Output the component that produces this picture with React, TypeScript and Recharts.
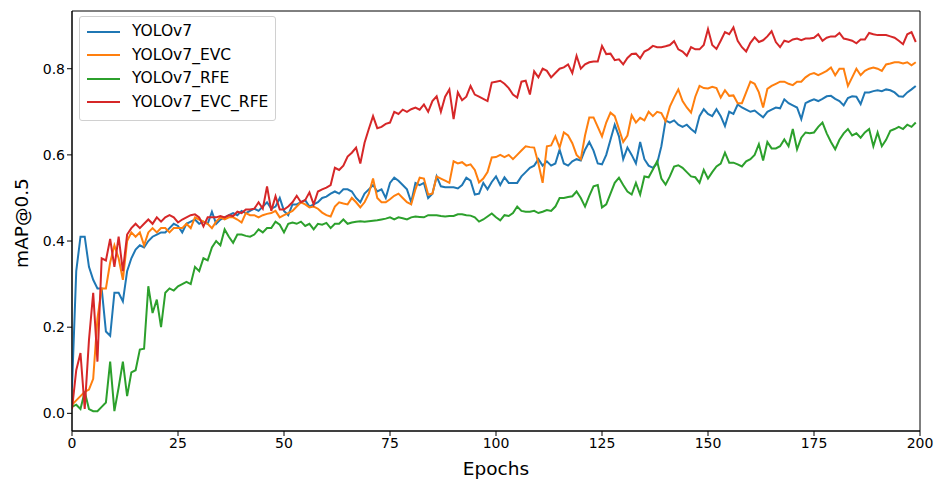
import { LineChart, Line, XAxis, YAxis, ReferenceArea } from "recharts"

const yolov7 = [
  0.06, 0.33, 0.41, 0.41, 0.34, 0.31, 0.29, 0.29, 0.19, 0.18,
  0.28, 0.28, 0.26, 0.33, 0.36, 0.38, 0.39, 0.385, 0.40, 0.41,
  0.415, 0.42, 0.42, 0.43, 0.44, 0.435, 0.42, 0.44, 0.445, 0.45,
  0.44, 0.445, 0.44, 0.468, 0.44, 0.45, 0.455, 0.46, 0.465, 0.46,
  0.47, 0.465, 0.47, 0.475, 0.47, 0.48, 0.49, 0.475, 0.48, 0.50,
  0.47, 0.46, 0.485, 0.485, 0.49, 0.495, 0.48, 0.485, 0.49, 0.50,
  0.503, 0.51, 0.515, 0.51, 0.52, 0.52, 0.515, 0.50, 0.49, 0.51,
  0.52, 0.53, 0.515, 0.52, 0.50, 0.535, 0.547, 0.54, 0.53, 0.52,
  0.49, 0.535, 0.53, 0.535, 0.50, 0.51, 0.55, 0.527, 0.525, 0.525,
  0.525, 0.522, 0.53, 0.547, 0.54, 0.508, 0.51, 0.535, 0.52, 0.537,
  0.55, 0.53, 0.548, 0.535, 0.535, 0.535, 0.55, 0.56, 0.57, 0.575,
  0.59, 0.575, 0.585, 0.575, 0.58, 0.612, 0.58, 0.575, 0.585, 0.59,
  0.587, 0.612, 0.63, 0.61, 0.58, 0.578, 0.60, 0.635, 0.67, 0.643,
  0.59, 0.617, 0.60, 0.58, 0.63, 0.59, 0.575, 0.57, 0.58, 0.62,
  0.68, 0.675, 0.68, 0.67, 0.665, 0.67, 0.66, 0.652, 0.69, 0.706,
  0.695, 0.69, 0.706, 0.69, 0.667, 0.70, 0.695, 0.717, 0.71, 0.705,
  0.70, 0.703, 0.695, 0.687, 0.70, 0.705, 0.71, 0.708, 0.729, 0.72,
  0.715, 0.71, 0.683, 0.72, 0.725, 0.729, 0.725, 0.73, 0.736, 0.737,
  0.73, 0.725, 0.715, 0.732, 0.736, 0.735, 0.718, 0.745, 0.745, 0.748,
  0.75, 0.748, 0.752, 0.75, 0.745, 0.736, 0.735, 0.745, 0.752, 0.76,
]

const yolov7Evc = [
  0.02, 0.03, 0.04, 0.05, 0.055, 0.08, 0.22, 0.29, 0.29, 0.35,
  0.39, 0.36, 0.31, 0.40, 0.42, 0.41, 0.42, 0.39, 0.42, 0.43,
  0.42, 0.43, 0.43, 0.42, 0.43, 0.43, 0.43, 0.44, 0.43, 0.455,
  0.45, 0.445, 0.44, 0.43, 0.445, 0.455, 0.45, 0.455, 0.455, 0.45,
  0.443, 0.465, 0.46, 0.46, 0.455, 0.46, 0.463, 0.465, 0.47, 0.455,
  0.46, 0.465, 0.47, 0.48, 0.49, 0.485, 0.478, 0.48, 0.475, 0.466,
  0.46, 0.457, 0.48, 0.49, 0.487, 0.485, 0.50, 0.49, 0.478, 0.49,
  0.51, 0.545, 0.50, 0.49, 0.49, 0.497, 0.505, 0.51, 0.50, 0.49,
  0.485, 0.52, 0.547, 0.545, 0.508, 0.51, 0.55, 0.545, 0.54, 0.535,
  0.585, 0.58, 0.583, 0.575, 0.578, 0.565, 0.536, 0.545, 0.56, 0.594,
  0.595, 0.60, 0.595, 0.60, 0.59, 0.60, 0.61, 0.62, 0.618, 0.617,
  0.58, 0.535, 0.62, 0.622, 0.643, 0.617, 0.652, 0.645, 0.627, 0.60,
  0.59, 0.645, 0.687, 0.687, 0.665, 0.643, 0.675, 0.698, 0.69, 0.66,
  0.63, 0.645, 0.692, 0.675, 0.686, 0.68, 0.70, 0.69, 0.70, 0.697,
  0.678, 0.712, 0.733, 0.752, 0.725, 0.71, 0.698, 0.735, 0.76, 0.755,
  0.754, 0.758, 0.755, 0.733, 0.75, 0.737, 0.738, 0.72, 0.72, 0.745,
  0.77, 0.765, 0.745, 0.71, 0.753, 0.76, 0.765, 0.77, 0.77, 0.765,
  0.762, 0.77, 0.77, 0.78, 0.787, 0.79, 0.785, 0.79, 0.795, 0.803,
  0.785, 0.80, 0.80, 0.76, 0.78, 0.80, 0.785, 0.795, 0.80, 0.803,
  0.80, 0.795, 0.81, 0.812, 0.815, 0.815, 0.812, 0.815, 0.808, 0.815,
]

const yolov7Rfe = [
  0.015, 0.02, 0.01, 0.05, 0.01, 0.005, 0.005, 0.015, 0.025, 0.12,
  0.005, 0.06, 0.12, 0.04, 0.095, 0.10, 0.148, 0.15, 0.295, 0.233,
  0.264, 0.20, 0.28, 0.29, 0.285, 0.295, 0.30, 0.305, 0.30, 0.34,
  0.33, 0.36, 0.355, 0.385, 0.40, 0.39, 0.427, 0.41, 0.396, 0.415,
  0.415, 0.412, 0.41, 0.415, 0.427, 0.42, 0.43, 0.43, 0.445, 0.438,
  0.42, 0.44, 0.443, 0.44, 0.445, 0.435, 0.44, 0.427, 0.44, 0.438,
  0.442, 0.43, 0.44, 0.44, 0.45, 0.44, 0.443, 0.445, 0.446, 0.445,
  0.446, 0.447, 0.448, 0.45, 0.452, 0.455, 0.45, 0.455, 0.453, 0.45,
  0.455, 0.457, 0.456, 0.455, 0.46, 0.46, 0.46, 0.458, 0.457, 0.458,
  0.458, 0.462, 0.462, 0.46, 0.459, 0.455, 0.445, 0.45, 0.457, 0.464,
  0.455, 0.448, 0.46, 0.458, 0.465, 0.48, 0.47, 0.468, 0.468, 0.47,
  0.465, 0.468, 0.472, 0.47, 0.48, 0.50, 0.50, 0.502, 0.504, 0.515,
  0.50, 0.48, 0.505, 0.527, 0.53, 0.478, 0.485, 0.51, 0.535, 0.547,
  0.53, 0.515, 0.508, 0.535, 0.508, 0.55, 0.548, 0.566, 0.585, 0.545,
  0.531, 0.55, 0.573, 0.576, 0.57, 0.56, 0.55, 0.548, 0.535, 0.565,
  0.545, 0.56, 0.573, 0.58, 0.605, 0.582, 0.582, 0.578, 0.573, 0.585,
  0.59, 0.60, 0.625, 0.587, 0.63, 0.615, 0.615, 0.62, 0.636, 0.62,
  0.66, 0.613, 0.64, 0.652, 0.65, 0.652, 0.665, 0.675, 0.65, 0.63,
  0.613, 0.635, 0.65, 0.66, 0.645, 0.65, 0.64, 0.652, 0.66, 0.62,
  0.652, 0.62, 0.635, 0.656, 0.66, 0.665, 0.66, 0.67, 0.665, 0.675,
]

const yolov7EvcRfe = [
  0.01, 0.10, 0.14, 0.01, 0.17, 0.28, 0.12, 0.36, 0.355, 0.405,
  0.34, 0.41, 0.33, 0.415, 0.43, 0.44, 0.43, 0.44, 0.45, 0.44,
  0.455, 0.445, 0.455, 0.46, 0.455, 0.443, 0.45, 0.455, 0.46, 0.462,
  0.455, 0.434, 0.455, 0.455, 0.455, 0.458, 0.455, 0.46, 0.458, 0.468,
  0.465, 0.473, 0.473, 0.475, 0.49, 0.475, 0.527, 0.47, 0.504, 0.473,
  0.473, 0.48, 0.49, 0.505, 0.49, 0.495, 0.513, 0.485, 0.515, 0.52,
  0.524, 0.53, 0.57, 0.565, 0.575, 0.596, 0.605, 0.617, 0.58, 0.628,
  0.66, 0.69, 0.662, 0.665, 0.672, 0.675, 0.70, 0.695, 0.705, 0.70,
  0.706, 0.71, 0.705, 0.717, 0.70, 0.725, 0.736, 0.70, 0.735, 0.752,
  0.683, 0.745, 0.727, 0.735, 0.76, 0.74, 0.735, 0.73, 0.725, 0.768,
  0.77, 0.772, 0.765, 0.755, 0.74, 0.733, 0.77, 0.772, 0.74, 0.794,
  0.78, 0.80, 0.795, 0.78, 0.79, 0.80, 0.803, 0.81, 0.79, 0.83,
  0.80, 0.81, 0.815, 0.817, 0.817, 0.853, 0.834, 0.835, 0.82, 0.822,
  0.81, 0.825, 0.834, 0.835, 0.824, 0.84, 0.845, 0.853, 0.85, 0.85,
  0.852, 0.855, 0.864, 0.845, 0.84, 0.83, 0.85, 0.845, 0.845, 0.855,
  0.892, 0.855, 0.846, 0.865, 0.885, 0.88, 0.896, 0.865, 0.85, 0.84,
  0.86, 0.873, 0.862, 0.866, 0.875, 0.887, 0.862, 0.85, 0.865, 0.862,
  0.868, 0.87, 0.866, 0.87, 0.87, 0.872, 0.88, 0.865, 0.872, 0.875,
  0.875, 0.883, 0.87, 0.868, 0.865, 0.859, 0.868, 0.868, 0.883, 0.88,
  0.878, 0.878, 0.878, 0.875, 0.872, 0.865, 0.857, 0.88, 0.885, 0.862,
]

const xTicks = [0, 25, 50, 75, 100, 125, 150, 175, 200]
const yTicks = [0, 0.2, 0.4, 0.6, 0.8]

const series = [
  { key: "yolov7", name: "YOLOv7", color: "#1f77b4", values: yolov7 },
  { key: "evc", name: "YOLOv7_EVC", color: "#ff7f0e", values: yolov7Evc },
  { key: "rfe", name: "YOLOv7_RFE", color: "#2ca02c", values: yolov7Rfe },
  { key: "evcRfe", name: "YOLOv7_EVC_RFE", color: "#d62728", values: yolov7EvcRfe },
]

const data = yolov7.map((_, i) => {
  const row: Record<string, number> = { epoch: i }
  series.forEach(s => { row[s.key] = s.values[i] })
  return row
})

const FONT = "'DejaVu Sans', sans-serif"
const Y_MIN = -0.041
const Y_MAX = 0.934

export default function App() {
  return (
    <div style={{ position: "absolute", left: 0, top: 0, width: 935, height: 479, background: "#fff", fontFamily: FONT }}>
      <LineChart width={935} height={479} data={data} margin={{ top: 11, right: 15, bottom: 0, left: 0 }}>
        <XAxis
          dataKey="epoch"
          type="number"
          domain={[0, 200]}
          ticks={xTicks}
          allowDataOverflow
          height={48}
          stroke="#000"
          tickSize={5}
          tick={{ fontSize: 14, fill: "#000", fontFamily: FONT }}
          label={{
            content: () => (
              <text x={496} y={475} textAnchor="middle" fontSize={18.5} fontFamily={FONT} fill="#000">Epochs</text>
            ),
          }}
        />
        <YAxis
          type="number"
          domain={[Y_MIN, Y_MAX]}
          ticks={yTicks}
          allowDataOverflow
          width={72}
          stroke="#000"
          tickSize={5}
          tickFormatter={(v: number) => v.toFixed(1)}
          tick={{ fontSize: 14, fill: "#000", fontFamily: FONT }}
          label={{
            content: () => (
              <text x={28} y={223} transform="rotate(-90 28 223)" textAnchor="middle" fontSize={18.5} fontFamily={FONT} fill="#000">mAP@0.5</text>
            ),
          }}
        />
        <ReferenceArea x1={0} x2={200} y1={Y_MIN} y2={Y_MAX} fill="none" stroke="#000" strokeWidth={1} />
        {series.map(s => (
          <Line
            key={s.key}
            dataKey={s.key}
            name={s.name}
            stroke={s.color}
            strokeWidth={2}
            dot={false}
            isAnimationActive={false}
          />
        ))}
      </LineChart>
      <div
        style={{
          position: "absolute",
          left: 79,
          top: 16,
          width: 195,
          height: 100,
          border: "1px solid #d0d0d0",
          borderRadius: 3,
          background: "rgba(255,255,255,0.8)",
          paddingTop: 3,
          boxSizing: "content-box",
        }}
      >
        {series.map(s => (
          <div key={s.key} style={{ height: 23.5, display: "flex", alignItems: "center" }}>
            <div style={{ marginLeft: 7, width: 33, height: 2, background: s.color }} />
            <span style={{ marginLeft: 12, fontSize: 15.5, color: "#000", lineHeight: "23.5px", whiteSpace: "nowrap" }}>{s.name}</span>
          </div>
        ))}
      </div>
    </div>
  )
}
